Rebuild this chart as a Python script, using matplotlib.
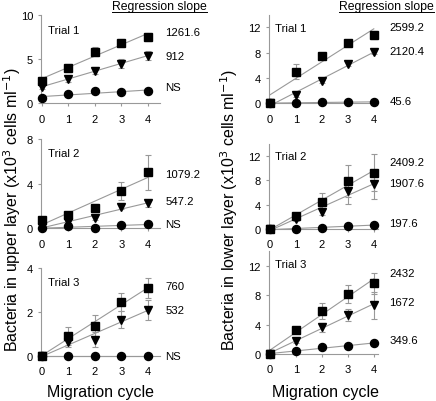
import numpy as np
import matplotlib
matplotlib.use("Agg")
import matplotlib.pyplot as plt
from matplotlib.lines import Line2D

plt.rcParams['font.family'] = ['Liberation Sans', 'DejaVu Sans']

cycles = [0, 1, 2, 3, 4]

# Upper layer (left column)
up1_sq = [2.57, 4.0, 5.85, 6.8, 7.55];  up1_sq_err = [0.4, 0.45, 0.5, 0.45, 0.45]
up1_tr = [1.9, 2.7, 3.7, 4.5, 5.4];     up1_tr_err = [0.3, 0.3, 0.4, 0.5, 0.5]
up1_ci = [0.57, 1.05, 1.4, 1.25, 1.4];  up1_ci_err = [0.1, 0.1, 0.1, 0.1, 0.1]

up2_sq = [0.78, 1.2, 1.85, 3.35, 5.0];  up2_sq_err = [0.1, 0.2, 0.3, 0.8, 1.55]
up2_tr = [0.15, 0.55, 0.9, 1.95, 2.25]; up2_tr_err = [0.05, 0.1, 0.2, 0.2, 0.3]
up2_ci = [0.0, 0.2, 0.0, 0.33, 0.35];   up2_ci_err = [0.0, 0.05, 0.0, 0.05, 0.05]

up3_sq = [0.0, 0.89, 1.37, 2.44, 3.08]; up3_sq_err = [0.0, 0.4, 0.5, 0.4, 0.45]
up3_tr = [0.0, 0.61, 0.73, 1.65, 2.1];  up3_tr_err = [0.0, 0.2, 0.35, 0.4, 0.45]
up3_ci = [0.0, 0.0, 0.0, 0.0, 0.0];     up3_ci_err = [0.0, 0.0, 0.0, 0.0, 0.0]

# Lower layer (right column)
lo1_sq = [0.0, 5.0, 7.5, 9.47, 10.8];   lo1_sq_err = [0.0, 1.2, 0.4, 0.3, 0.7]
lo1_tr = [0.0, 1.37, 3.58, 6.2, 8.15];  lo1_tr_err = [0.0, 0.3, 0.3, 0.3, 0.3]
lo1_ci = [0.0, 0.1, 0.15, 0.2, 0.2];    lo1_ci_err = [0.0, 0.0, 0.0, 0.0, 0.0]

lo2_sq = [0.0, 2.07, 4.5, 7.9, 9.2];    lo2_sq_err = [0.0, 0.3, 1.4, 2.6, 3.0]
lo2_tr = [0.0, 1.64, 2.84, 6.16, 7.3];  lo2_tr_err = [0.0, 0.3, 0.6, 2.0, 2.4]
lo2_ci = [0.0, 0.05, 0.1, 0.5, 0.7];    lo2_ci_err = [0.0, 0.0, 0.0, 0.1, 0.1]

lo3_sq = [0.0, 3.2, 5.84, 8.2, 9.6];    lo3_sq_err = [0.0, 0.3, 1.1, 1.2, 1.4]
lo3_tr = [0.0, 1.83, 3.65, 5.34, 6.6];  lo3_tr_err = [0.0, 0.3, 0.6, 0.8, 1.8]
lo3_ci = [0.0, 0.4, 0.95, 1.1, 1.45];   lo3_ci_err = [0.0, 0.1, 0.1, 0.1, 0.1]

slopes_up = [["1261.6", "912", "NS"], ["1079.2", "547.2", "NS"], ["760", "532", "NS"]]
slopes_lo = [["2599.2", "2120.4", "45.6"], ["2409.2", "1907.6", "197.6"], ["2432", "1672", "349.6"]]
trials = ["Trial 1", "Trial 2", "Trial 3"]

W, H = 436, 402
fig = plt.figure(figsize=(W / 100, H / 100), dpi=100)

grey = '#999999'

panels = [
    dict(x0=40.7, w=119, y0=104.3, y1=16, ytop=10, yt=[0, 5, 10],
         ser=[(up1_sq, up1_sq_err, 's'), (up1_tr, up1_tr_err, 'v'), (up1_ci, up1_ci_err, 'o')],
         lab=slopes_up[0], laby=[8.04, 5.32, 1.8], labx=4.67, trial=trials[0], ty=0.83, xmax=4.45),
    dict(x0=40.7, w=119, y0=229.3, y1=140, ytop=8, yt=[0, 4, 8],
         ser=[(up2_sq, up2_sq_err, 's'), (up2_tr, up2_tr_err, 'v'), (up2_ci, up2_ci_err, 'o')],
         lab=slopes_up[1], laby=[4.86, 2.42, 0.38], labx=4.67, trial=trials[1], ty=0.846, xmax=4.45),
    dict(x0=40.7, w=119, y0=356.7, y1=269, ytop=4, yt=[0, 2, 4],
         ser=[(up3_sq, up3_sq_err, 's'), (up3_tr, up3_tr_err, 'v'), (up3_ci, up3_ci_err, 'o')],
         lab=slopes_up[2], laby=[3.2, 2.1, 0.0], labx=4.67, trial=trials[2], ty=0.84, xmax=4.45),
    dict(x0=268.7, w=109, y0=104.3, y1=15.7, ytop=14, yt=[0, 4, 8, 12],
         ser=[(lo1_sq, lo1_sq_err, 's'), (lo1_tr, lo1_tr_err, 'v'), (lo1_ci, lo1_ci_err, 'o')],
         lab=slopes_lo[0], laby=[12.1, 8.3, 0.4], labx=4.6, trial=trials[0], ty=0.854, xmax=4.15),
    dict(x0=268.7, w=109, y0=230, y1=144.5, ytop=14, yt=[0, 4, 8, 12],
         ser=[(lo2_sq, lo2_sq_err, 's'), (lo2_tr, lo2_tr_err, 'v'), (lo2_ci, lo2_ci_err, 'o')],
         lab=slopes_lo[1], laby=[10.9, 7.5, 0.93], labx=4.6, trial=trials[1], ty=0.85, xmax=4.15),
    dict(x0=268.7, w=109, y0=355, y1=252, ytop=14, yt=[0, 4, 8, 12],
         ser=[(lo3_sq, lo3_sq_err, 's'), (lo3_tr, lo3_tr_err, 'v'), (lo3_ci, lo3_ci_err, 'o')],
         lab=slopes_lo[2], laby=[11.0, 7.0, 1.9], labx=4.6, trial=trials[2], ty=0.87, xmax=4.15),
]

msize = {'s': 5.2, 'v': 5.6, 'o': 5.8}
x = np.array(cycles, dtype=float)
for p in panels:
    ax = fig.add_axes([p['x0'] / W, 1 - p['y0'] / H, p['w'] / W, (p['y0'] - p['y1']) / H])
    ax.set_xlim(-0.05, p['xmax'])
    ax.set_ylim(0, p['ytop'])
    for s in ['top', 'right']:
        ax.spines[s].set_visible(False)
    for s in ['left', 'bottom']:
        ax.spines[s].set_color(grey)
        ax.spines[s].set_linewidth(0.8)
    ax.set_xticks(cycles)
    ax.set_yticks(p['yt'])
    ax.tick_params(axis='both', colors=grey, labelcolor='black', labelsize=8, length=2.5, width=0.8, pad=3)
    ax.tick_params(axis='x', pad=5)
    for ys, err, m in p['ser']:
        ys = np.array(ys)
        k, b = np.polyfit(x, ys, 1)
        ax.plot([0, 4], [b, b + 4 * k], color=grey, lw=0.8, zorder=2, clip_on=False)
        ax.errorbar(x, ys, yerr=err, fmt='none', ecolor=grey, elinewidth=0.8, capsize=2, capthick=0.8,
                    zorder=3, clip_on=False)
        ax.plot(x, ys, linestyle='none', marker=m, color='black', markersize=msize[m], zorder=4, clip_on=False)
    for lab, ly in zip(p['lab'], p['laby']):
        ax.text(p['labx'], ly, lab, fontsize=8.2, va='center', ha='left', clip_on=False)
    ax.text(0.06, p['ty'], p['trial'], transform=ax.transAxes, fontsize=8.2, va='center', ha='left')

fig.text(12 / W, 1 - 210 / H, r'Bacteria in upper layer (x10$^3$ cells ml$^{-1}$)', rotation=90,
         fontsize=11.5, ha='center', va='center')
fig.text(229 / W, 1 - 210 / H, r'Bacteria in lower layer (x10$^3$ cells ml$^{-1}$)', rotation=90,
         fontsize=11.5, ha='center', va='center')
fig.text(100.8 / W, 1 - 397 / H, 'Migration cycle', fontsize=11.5, ha='center', va='baseline')
fig.text(325.8 / W, 1 - 397 / H, 'Migration cycle', fontsize=11.5, ha='center', va='baseline')

fig.canvas.draw()
r = fig.canvas.get_renderer()
for xr in [207 / W, 434 / W]:
    t = fig.text(xr, 1 - 10 / H, 'Regression slope', fontsize=8.8, ha='right', va='baseline')
    bb = t.get_window_extent(r)
    fig.add_artist(Line2D([bb.x0 / W, bb.x1 / W], [1 - 12.5 / H, 1 - 12.5 / H], color='black', lw=0.7))

fig.savefig('out.png', dpi=100)
